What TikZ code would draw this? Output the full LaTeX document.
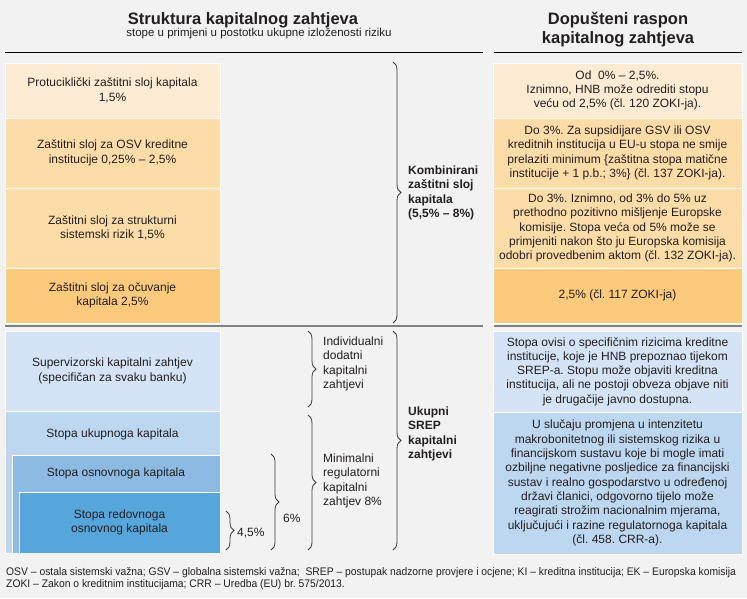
\documentclass[tikz,border=0pt]{standalone}
\usepackage{fontspec}
\setmainfont{Liberation Sans}
\newfontfamily\notefont{Liberation Sans}[FakeStretch=0.94]
\usepackage{xcolor}
\usetikzlibrary{positioning,decorations.pathreplacing}
\frenchspacing

\definecolor{bggray}{HTML}{F2F2F2}
\definecolor{txtgray}{HTML}{231F20}
\definecolor{sepgray}{HTML}{808080}
\definecolor{bracegray}{HTML}{3A3A3A}
\definecolor{orangeA}{HTML}{FEEBD4}
\definecolor{orangeB}{HTML}{FDDCA8}
\definecolor{orangeC}{HTML}{FCCA7C}
\definecolor{blueA}{HTML}{D4E3F5}
\definecolor{blueB}{HTML}{BED7F0}
\definecolor{blueC}{HTML}{8CBAE3}
\definecolor{blueD}{HTML}{56A6DC}

\begin{document}
\begin{tikzpicture}[
    x=1pt, y=-1pt,
    font=\fontsize{12}{14.3}\selectfont,
    text=txtgray,
    node distance=0pt,
    % Styles
    box/.style={
        rectangle,
        draw=white,
        line width=1pt,
        inner sep=0pt,
        outer sep=0pt,
        align=center
    },
    leftbox/.style={box, minimum width=215pt},
    rightbox/.style={box, minimum width=249pt},
    boxtext/.style={inner sep=0pt, align=center},
    heading/.style={inner sep=0pt, align=center, font=\bfseries\fontsize{16.5}{19.5}\selectfont},
    bracetext/.style={inner sep=0pt, anchor=west, align=left},
    % Line Styles
    rule/.style={draw=black, line width=1pt},
    separator/.style={draw=sepgray, line width=2pt},
    brc/.style={draw=bracegray, line width=0.8pt, decorate,
        decoration={brace, amplitude=8pt}}
]

% --- Background ---
\fill[bggray] (0,0) rectangle (747,598);

% --- Headings ---
\node[heading] (title) at (243,20) {Struktura kapitalnog zahtjeva};
\node[inner sep=0pt, font=\fontsize{11.5}{13}\selectfont] (subtitle) at (259,34)
    {stope u primjeni u postotku ukupne izloženosti riziku};
\node[heading] (rangetitle) at (618,29.5) {Dopušteni raspon\\kapitalnog zahtjeva};

\coordinate (ruleL1) at (5,52);
\coordinate (ruleL2) at (483,52);
\coordinate (ruleR1) at (494,52);
\coordinate (ruleR2) at (742,52);
\draw[rule] (ruleL1) -- (ruleL2);
\draw[rule] (ruleR1) -- (ruleR2);

% --- Left Column: buffers ---
\node[leftbox, fill=orangeA, minimum height=55pt, anchor=north west] (protu) at (5,63)
    {Protuciklički zaštitni sloj kapitala\\1,5\%};
\node[leftbox, fill=orangeB, minimum height=70pt, below=of protu] (osv)
    {Zaštitni sloj za OSV kreditne\\institucije 0,25\% – 2,5\%};
\node[leftbox, fill=orangeB, minimum height=80pt, below=of osv] (struk)
    {Zaštitni sloj za strukturni\\sistemski rizik 1,5\%};
\node[leftbox, fill=orangeC, minimum height=55pt, below=of struk] (ocuv)
    {Zaštitni sloj za očuvanje\\kapitala 2,5\%};

% --- Right Column: buffers ---
\node[rightbox, fill=orangeA, minimum height=55pt, anchor=north west] (rprotu) at (493,63)
    {Od \ 0\% – 2,5\%.\\Iznimno, HNB može odrediti stopu\\veću od 2,5\% (čl. 120 ZOKI-ja).};
\node[rightbox, fill=orangeB, minimum height=70pt, below=of rprotu] (rosv)
    {Do 3\%. Za supsidijare GSV ili OSV\\kreditnih institucija u EU-u stopa ne smije\\prelaziti minimum \{zaštitna stopa matične\\institucije + 1 p.b.; 3\%\} (čl. 137 ZOKI-ja).};
\node[rightbox, fill=orangeB, minimum height=80pt, below=of rosv] (rstruk)
    {Do 3\%. Iznimno, od 3\% do 5\% uz\\prethodno pozitivno mišljenje Europske\\komisije. Stopa veća od 5\% može se\\primjeniti nakon što ju Europska komisija\\odobri provedbenim aktom (čl. 132 ZOKI-ja).};
\node[rightbox, fill=orangeC, minimum height=55pt, below=of rstruk] (rocuv)
    {2,5\% (čl. 117 ZOKI-ja)};

% --- Separator ---
\coordinate (sepL1) at (5,326);
\coordinate (sepL2) at (483,326);
\coordinate (sepR1) at (494,326);
\coordinate (sepR2) at (742,326);
\draw[separator] (sepL1) -- (sepL2);
\draw[separator] (sepR1) -- (sepR2);

% --- Left Column: SREP ---
\node[leftbox, fill=blueA, minimum height=80pt, anchor=north west] (superv) at (5,331)
    {Supervizorski kapitalni zahtjev\\(specifičan za svaku banku)};
\node[leftbox, fill=blueB, minimum height=142pt, below=of superv] (ukupni) {};
\node[box, fill=blueC, minimum width=208pt, minimum height=98pt, anchor=north west] (osnovni) at (12,455) {};
\node[box, fill=blueD, minimum width=201pt, minimum height=61pt, anchor=north west] (redovni) at (19,492)
    {Stopa redovnoga\\osnovnog kapitala};
\node[boxtext] (ukupnitxt) at (112.5,434) {Stopa ukupnoga kapitala};
\node[boxtext] (osnovnitxt) at (116,473.5) {Stopa osnovnoga kapitala};

% --- Right Column: SREP ---
\node[rightbox, fill=blueA, minimum height=81pt, anchor=north west] (rsuperv) at (493,331)
    {Stopa ovisi o specifičnim rizicima kreditne\\institucije, koje je HNB prepoznao tijekom\\SREP-a. Stopu može objaviti kreditna\\institucija, ali ne postoji obveza objave niti\\je drugačije javno dostupna.};
\node[rightbox, fill=blueB, minimum height=142pt, below=of rsuperv] (rmakro)
    {U slučaju promjena u intenzitetu\\makrobonitetnog ili sistemskog rizika u\\financijskom sustavu koje bi mogle imati\\ozbiljne negativne posljedice za financijski\\sustav i realno gospodarstvo u određenoj\\državi članici, odgovorno tijelo može\\reagirati strožim nacionalnim mjerama,\\uključujući i razine regulatornoga kapitala\\(čl. 458. CRR-a).};

% --- Braces ---
\coordinate (kombT) at (393,62);
\coordinate (kombB) at (393,323);
\coordinate (srepT) at (393,331);
\coordinate (srepB) at (393,550);
\coordinate (indT) at (308,331);
\coordinate (indB) at (308,407);
\coordinate (minT) at (308,415);
\coordinate (minB) at (308,550);
\coordinate (sixT) at (271,454);
\coordinate (sixB) at (271,550);
\coordinate (fourT) at (226,511);
\coordinate (fourB) at (226,550);

\draw[brc] (kombT) -- (kombB);
\draw[brc] (srepT) -- (srepB);
\draw[brc] (indT) -- (indB);
\draw[brc] (minT) -- (minB);
\draw[brc] (sixT) -- (sixB);
\draw[brc] (fourT) -- (fourB);

% --- Brace Labels ---
\node[bracetext, font=\bfseries\fontsize{12}{14.3}\selectfont] (kombtxt) at (408,193)
    {Kombinirani\\zaštitni sloj\\kapitala\\(5,5\% – 8\%)};
\node[bracetext, font=\bfseries\fontsize{12}{14.3}\selectfont] (sreptxt) at (408,434)
    {Ukupni\\SREP\\kapitalni\\zahtjevi};
\node[bracetext] (indtxt) at (323,364) {Individualni\\dodatni\\kapitalni\\zahtjevi};
\node[bracetext] (mintxt) at (323,481) {Minimalni\\regulatorni\\kapitalni\\zahtjev 8\%};
\node[bracetext] (sixtxt) at (283,518) {6\%};
\node[bracetext] (fourtxt) at (237,533) {4,5\%};

% --- Footnote ---
\node[inner sep=0pt, anchor=west, align=left,
    font=\notefont\fontsize{11}{12}\selectfont] (note) at (6,579)
    {OSV – ostala sistemski važna; GSV – globalna sistemski važna; \ SREP – postupak nadzorne provjere i ocjene; KI – kreditna institucija; EK – Europska komisija\\ZOKI – Zakon o kreditnim institucijama; CRR – Uredba (EU) br. 575/2013.};

\end{tikzpicture}
\end{document}
